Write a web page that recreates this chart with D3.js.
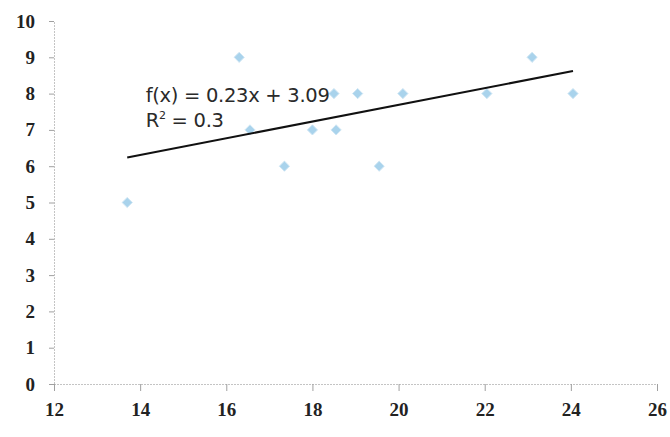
<!DOCTYPE html>
<html>
<head>
<meta charset="utf-8">
<script src="https://cdn.jsdelivr.net/npm/d3@7"></script>
<style>
    body { margin: 0; background: #fff; }
    .tick text { font-family: "Liberation Serif", "DejaVu Serif", serif; font-weight: bold; }
</style>
</head>
<body>
<svg id="chart" width="670" height="437"></svg>
<script>
// values
let xValues = [13.7, 16.3, 16.55, 17.35, 18.0, 18.5, 18.55, 19.05, 19.55, 20.1, 22.05, 23.1, 24.05];
let yValues = [5, 9, 7, 6, 7, 8, 7, 8, 6, 8, 8, 9, 8];
let xTicks = [12, 14, 16, 18, 20, 22, 24, 26];
let yTicks = [0, 1, 2, 3, 4, 5, 6, 7, 8, 9, 10];
let trendSlope = 0.23;
let trendIntercept = 3.09;
let equationLines = ["f(x) = 0.23x + 3.09", "R", "2", " = 0.3"];

let svg = d3.select("#chart");
let margin = {top: 21, right: 13, bottom: 53, left: 54};
let width = 670 - margin.left - margin.right;
let height = 437 - margin.top - margin.bottom;

let x = d3.scaleLinear().domain([12, 26]).range([0, width]);
let y = d3.scaleLinear().domain([0, 10]).range([height, 0]);

let g = svg.append("g")
    .attr("transform", "translate(" + margin.left + "," + margin.top + ")");

let xAxis = g.append("g")
    .attr("transform", "translate(0," + height + ")")
    .call(d3.axisBottom(x).tickValues(xTicks).tickSize(7).tickPadding(12).tickFormat(d3.format("d")));
let yAxis = g.append("g")
    .call(d3.axisLeft(y).tickValues(yTicks).tickSize(5).tickPadding(14).tickFormat(d3.format("d")));

[xAxis, yAxis].forEach(ax => {
    ax.select(".domain").attr("stroke", "#c4c4c4").attr("stroke-dasharray", "2,1");
    ax.selectAll(".tick line").attr("stroke", "#a0a0a0");
    ax.selectAll(".tick text").attr("fill", "#222").style("font-size", "19px");
});

// points
g.selectAll(".pt")
    .data(xValues.map((v, i) => [v, yValues[i]]))
    .enter().append("path")
    .attr("class", "pt")
    .attr("d", d3.symbol(d3.symbolDiamond2, 66))
    .attr("transform", d => "translate(" + x(d[0]) + "," + y(d[1]) + ")")
    .attr("fill", "#a9d3ec")
    .attr("stroke", "#cfe6f4")
    .attr("stroke-width", 1);

// trend line across the data range
let xExtent = d3.extent(xValues);
g.append("line")
    .attr("x1", x(xExtent[0]))
    .attr("y1", y(trendSlope * xExtent[0] + trendIntercept))
    .attr("x2", x(xExtent[1]))
    .attr("y2", y(trendSlope * xExtent[1] + trendIntercept))
    .attr("stroke", "#111")
    .attr("stroke-width", 2);

// equation label
let eqX = x(14.13);
let eq = g.append("text")
    .attr("x", eqX)
    .attr("y", y(7.77))
    .attr("fill", "#2a2a2a")
    .style("font-family", "'DejaVu Sans', sans-serif")
    .style("font-size", "19.5px")
    .style("letter-spacing", "-0.3px");
eq.append("tspan").text(equationLines[0]);
eq.append("tspan").attr("x", eqX).attr("dy", 25).text(equationLines[1]);
eq.append("tspan").attr("dy", -8).style("font-size", "11px").text(equationLines[2]);
eq.append("tspan").attr("dy", 8).text(equationLines[3]);
</script>
</body>
</html>
